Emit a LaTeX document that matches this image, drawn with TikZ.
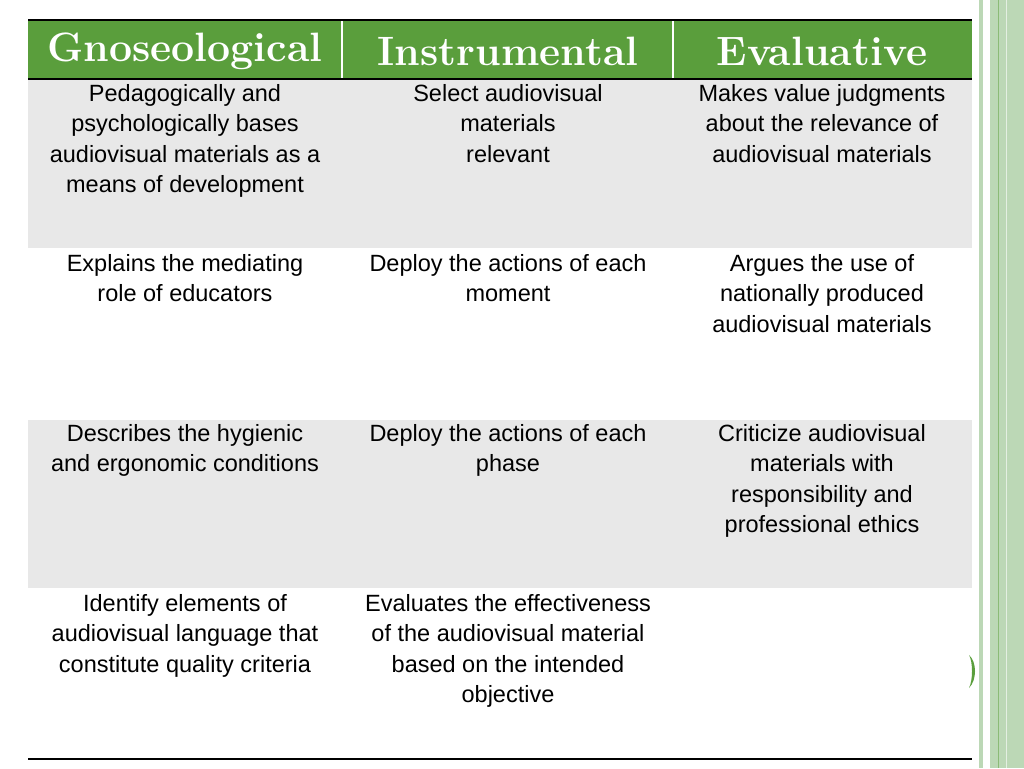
\documentclass[tikz,border=0pt]{standalone}
\usepackage{fontspec}
\setsansfont{Liberation Sans}
\begin{document}
\begin{tikzpicture}[x=1pt,y=-1pt,
 cell/.style={anchor=north,align=center,font=\sffamily\fontsize{23.5}{30.5}\selectfont,inner sep=0pt},
 head/.style={anchor=center,font=\rmfamily\bfseries\fontsize{41}{42}\selectfont,text=white,inner sep=0pt}]
\definecolor{hg}{HTML}{5A9E3C}
\definecolor{gr}{HTML}{E8E8E8}
\definecolor{lg}{HTML}{BCD8B6}
\useasboundingbox (0,0) rectangle (1024,768);
\fill[white] (0,0) rectangle (1024,768);
\fill[lg] (979,0) rectangle (983,768);
\fill[lg] (990,0) rectangle (1024,768);
\draw[hg!70,line width=1] (998,0) -- (998,768);
\draw[white!60!lg,line width=1] (1006,0) -- (1006,768);
\fill[hg] (28,20) rectangle (972,79);
\draw[white,line width=1.5] (342,20) -- (342,79) (673,20) -- (673,79);
\draw[black,line width=2.5] (28,20) -- (972,20);
\draw[black,line width=2] (28,79) -- (972,79);
\fill[gr] (28,80) rectangle (972,248);
\fill[gr] (28,420) rectangle (972,588);
\draw[black,line width=2.5] (28,759) -- (972,759);
\fill[hg] (969,655) .. controls (977,662) and (977,680) .. (969,688) .. controls (973,680) and (973,662) .. (969,655);
\node[head] (h1) at (185,51) {Gnoseological};
\node[head] (h2) at (508,51) {Instrumental};
\node[head] (h3) at (822,51) {Evaluative};
\node[cell] (a1) at (185,84) {Pedagogically and\\psychologically bases\\audiovisual materials as a\\means of development};
\node[cell] (b1) at (508,84) {Select audiovisual\\materials\\relevant};
\node[cell] (c1) at (822,84) {Makes value judgments\\about the relevance of\\audiovisual materials};
\node[cell] (a2) at (185,254) {Explains the mediating\\role of educators};
\node[cell] (b2) at (508,254) {Deploy the actions of each\\moment};
\node[cell] (c2) at (822,254) {Argues the use of\\nationally produced\\audiovisual materials};
\node[cell] (a3) at (185,424) {Describes the hygienic\\and ergonomic conditions};
\node[cell] (b3) at (508,424) {Deploy the actions of each\\phase};
\node[cell] (c3) at (822,424) {Criticize audiovisual\\materials with\\responsibility and\\professional ethics};
\node[cell] (a4) at (185,594) {Identify elements of\\audiovisual language that\\constitute quality criteria};
\node[cell] (b4) at (508,594) {Evaluates the effectiveness\\of the audiovisual material\\based on the intended\\objective};
\end{tikzpicture}
\end{document}
